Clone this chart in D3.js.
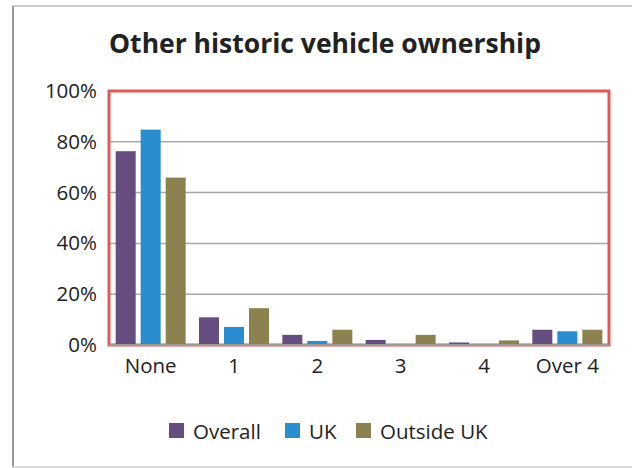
<!DOCTYPE html>
<html>
<head>
<meta charset="utf-8">
<script src="https://cdn.jsdelivr.net/npm/d3@7"></script>
<style>
  html, body { margin: 0; padding: 0; background: #fff; }
  svg { display: block; font-family: "Open Sans", "Noto Sans", sans-serif; }
</style>
</head>
<body>
<div id="chart"></div>
<script>
// Chart data
const categories = ['None', '1', '2', '3', '4', 'Over 4'];
const seriesNames = ['Overall', 'UK', 'Outside UK'];
const overall = [76.3, 10.9, 4.0, 2.0, 1.0, 6.0];
const uk = [84.8, 7.1, 1.6, 0, 0, 5.4];
const outsideUk = [65.9, 14.5, 6.0, 4.0, 1.8, 6.0];
const yTicks = [0, 20, 40, 60, 80, 100];
const colors = ['#654d80', '#2a8dd0', '#8b8250'];

const width = 632;
const height = 468;
const margin = { top: 91, right: 23, bottom: 123, left: 109 };
const plotW = width - margin.left - margin.right;
const plotH = height - margin.top - margin.bottom;

const svg = d3.select('#chart')
  .append('svg')
  .attr('width', width)
  .attr('height', height);

// Outer frame
svg.append('line')
  .attr('x1', 13).attr('y1', 6).attr('x2', 13).attr('y2', 467)
  .attr('stroke', '#999').attr('stroke-width', 2);
svg.append('line')
  .attr('x1', 12).attr('y1', 6).attr('x2', 632).attr('y2', 6)
  .attr('stroke', '#bbb').attr('stroke-width', 1.5);
svg.append('line')
  .attr('x1', 12).attr('y1', 467).attr('x2', 632).attr('y2', 467)
  .attr('stroke', '#ccc').attr('stroke-width', 1.5);

// Title
svg.append('text')
  .attr('x', 325)
  .attr('y', 53)
  .attr('text-anchor', 'middle')
  .attr('font-size', '26.5px')
  .attr('font-weight', 'bold')
  .attr('fill', '#222')
  .text('Other historic vehicle ownership');

const g = svg.append('g')
  .attr('transform', `translate(${margin.left},${margin.top})`);

const x0 = d3.scaleBand()
  .domain(categories)
  .range([0, plotW])
  .paddingInner(0.16)
  .paddingOuter(0.08);

const x1 = d3.scaleBand()
  .domain(seriesNames)
  .range([0, x0.bandwidth()])
  .paddingInner(0.2);

const y = d3.scaleLinear()
  .domain([0, 100])
  .range([plotH, 0]);

// Gridlines
g.append('g')
  .selectAll('line')
  .data(yTicks.filter(d => d > 0 && d < 100))
  .join('line')
  .attr('x1', 0)
  .attr('x2', plotW)
  .attr('y1', d => y(d))
  .attr('y2', d => y(d))
  .attr('stroke', '#a9a9a9')
  .attr('stroke-width', 1.5);

// Red frame
g.append('rect')
  .attr('x', 0)
  .attr('y', 0)
  .attr('width', plotW)
  .attr('height', plotH)
  .attr('fill', 'none')
  .attr('stroke', '#e25858')
  .attr('stroke-width', 3);

// Bars
const rows = categories.map((c, i) => ({
  category: c,
  values: [overall[i], uk[i], outsideUk[i]]
}));

g.append('g')
  .selectAll('g')
  .data(rows)
  .join('g')
  .attr('transform', d => `translate(${x0(d.category)},0)`)
  .selectAll('rect')
  .data(d => d.values.map((v, j) => ({ name: seriesNames[j], value: v, color: colors[j] })))
  .join('rect')
  .attr('x', d => x1(d.name))
  .attr('y', d => y(d.value))
  .attr('width', x1.bandwidth())
  .attr('height', d => plotH - y(d.value))
  .attr('fill', d => d.color);

// Baseline
g.append('line')
  .attr('x1', 0)
  .attr('x2', plotW)
  .attr('y1', plotH)
  .attr('y2', plotH)
  .attr('stroke', '#999')
  .attr('stroke-width', 2);

// Y axis labels
const yAxis = d3.axisLeft(y)
  .tickValues(yTicks)
  .tickFormat(d => d + '%')
  .tickSize(0)
  .tickPadding(12);

g.append('g')
  .call(yAxis)
  .call(a => a.select('.domain').remove())
  .selectAll('text')
  .attr('font-size', '20.5px')
  .attr('fill', '#222')
  .attr('font-family', '"Open Sans", "Noto Sans", sans-serif');

// X axis labels
const xAxis = d3.axisBottom(x0)
  .tickSize(0)
  .tickPadding(13);

g.append('g')
  .attr('transform', `translate(0,${plotH})`)
  .call(xAxis)
  .call(a => a.select('.domain').remove())
  .selectAll('text')
  .attr('font-size', '20.5px')
  .attr('fill', '#222')
  .attr('font-family', '"Open Sans", "Noto Sans", sans-serif');

// Legend
const legendX = [169, 285, 356];
const legend = svg.append('g')
  .selectAll('g')
  .data(seriesNames)
  .join('g')
  .attr('transform', (d, i) => `translate(${legendX[i]},423)`);

legend.append('rect')
  .attr('width', 15)
  .attr('height', 15)
  .attr('fill', (d, i) => colors[i]);

legend.append('text')
  .attr('x', 24)
  .attr('y', 15.5)
  .attr('font-size', '20.5px')
  .attr('fill', '#222')
  .text(d => d);
</script>
</body>
</html>
